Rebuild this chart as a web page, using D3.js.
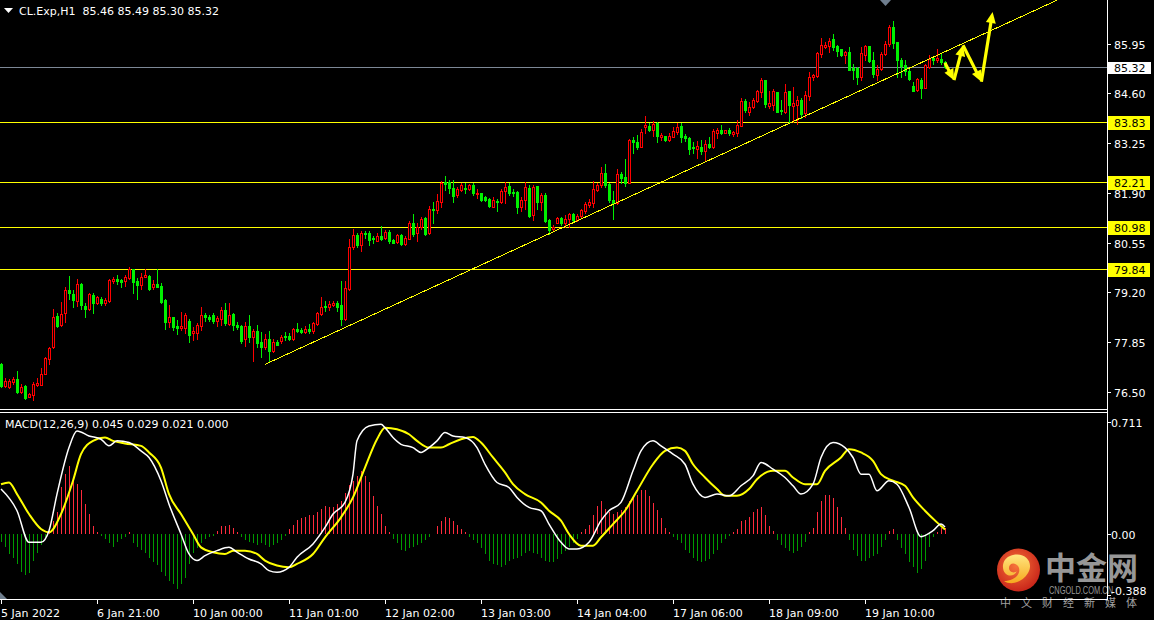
<!DOCTYPE html>
<html><head><meta charset="utf-8">
<script src="https://cdn.jsdelivr.net/npm/d3@7"></script>
<style>
html,body{margin:0;padding:0;background:#000;}
svg{display:block;}
text{font-family:"DejaVu Sans",sans-serif;font-size:11px;}
</style></head><body>
<svg id="c" width="1154" height="620"></svg>
<script>
// ---------------- DATA ----------------
const symbolInfo = "CL.Exp,H1  85.46 85.49 85.30 85.32";
const macdInfo = "MACD(12,26,9) 0.045 0.029 0.021 0.000";

const opens = [77.26,76.66,76.63,76.77,76.86,76.50,76.66,76.37,76.41,76.68,76.70,77.00,77.39,77.71,78.56,78.31,78.65,79.28,79.16,78.98,
79.43,78.83,78.76,79.12,78.92,79.03,78.91,78.96,79.50,79.56,79.54,79.52,79.59,79.83,79.50,79.39,79.63,79.66,79.34,79.43,
79.38,79.00,78.40,78.53,78.29,78.24,78.24,78.42,78.09,78.11,78.29,78.60,78.54,78.58,78.42,78.49,78.72,78.34,78.62,78.33,
78.29,77.93,78.29,78.00,78.15,77.86,77.71,77.93,77.62,77.86,77.89,78.02,78.02,77.95,78.20,78.18,78.13,78.22,78.15,78.34,
78.62,78.83,78.80,78.87,78.91,78.87,78.49,79.29,80.43,80.75,80.50,80.81,80.81,80.68,80.61,80.73,80.68,80.84,80.62,80.57,
80.75,80.52,80.66,81.08,80.82,80.97,81.22,80.81,81.46,81.44,81.65,82.20,82.20,82.04,81.84,81.98,82.04,82.00,82.11,81.87,
81.89,81.78,81.73,81.53,81.69,81.65,81.96,82.09,81.93,81.93,81.53,81.71,82.04,81.29,82.09,81.65,81.84,81.17,80.93,81.09,
81.22,81.09,81.19,81.33,81.17,81.27,81.40,81.58,81.64,81.98,82.11,82.43,82.14,81.71,81.62,82.41,82.33,82.18,83.34,83.28,
83.16,83.70,83.72,83.61,83.81,83.43,83.45,83.34,83.43,83.55,83.72,83.45,83.39,83.15,83.10,83.15,83.04,83.22,83.15,83.53,
83.62,83.54,83.60,83.51,83.54,83.73,84.39,84.11,84.23,84.39,84.65,84.96,84.27,84.30,84.63,84.14,84.11,84.67,84.27,84.30,
84.41,84.07,84.54,85.06,85.08,85.68,85.86,85.88,86.08,85.88,85.81,85.63,85.72,85.28,85.28,85.05,85.64,85.88,85.50,85.10,
85.26,85.68,85.93,86.40,85.99,85.50,85.37,85.21,84.79,84.70,84.96,84.76,85.32,85.55,85.52,85.53,85.46];
const highs = [77.30,76.87,76.86,76.92,77.07,76.72,76.69,76.48,76.77,76.87,77.14,77.46,77.73,78.74,78.63,78.94,79.34,79.65,79.27,79.56,
79.47,78.91,79.19,79.18,79.10,79.07,79.05,79.56,79.61,79.68,79.57,79.68,79.90,79.85,79.59,79.72,79.85,79.68,79.54,79.83,
79.47,79.01,78.85,78.54,78.45,78.68,78.65,78.47,78.27,78.38,78.81,78.65,78.60,78.63,78.56,78.81,78.92,78.92,78.65,78.40,
78.33,78.40,78.58,78.22,78.33,78.13,78.07,78.16,77.93,77.91,78.05,78.13,78.11,78.25,78.36,78.24,78.29,78.34,78.40,78.67,
79.07,78.96,78.96,78.96,78.98,79.50,79.50,80.64,80.91,80.81,80.88,80.88,80.88,80.72,80.81,81.00,80.90,80.90,80.66,80.79,
80.79,80.73,81.13,81.33,81.08,81.26,81.26,81.55,81.65,81.87,82.22,82.36,82.25,82.25,82.07,82.16,82.16,82.14,82.18,82.02,
81.91,81.82,81.76,81.78,81.73,82.02,82.20,82.16,82.02,81.94,81.78,82.20,82.11,82.11,82.09,81.89,81.89,81.20,81.02,81.24,
81.24,81.29,81.37,81.35,81.33,81.47,81.65,81.73,82.22,82.18,82.60,82.69,82.16,81.94,82.54,82.47,82.81,83.37,83.43,83.46,
83.63,83.99,83.79,83.84,83.83,83.54,83.45,83.52,83.68,83.79,83.79,83.50,83.43,83.27,83.30,83.33,83.35,83.42,83.63,83.65,
83.74,83.62,83.65,83.58,83.87,84.47,84.45,84.36,84.47,84.70,85.03,84.97,84.68,84.72,84.65,84.43,84.85,84.68,84.77,84.54,
84.48,84.68,85.17,85.14,85.72,86.10,85.99,86.10,86.20,85.91,85.81,85.75,85.86,85.39,85.32,85.86,85.91,85.90,85.73,85.37,
85.73,86.02,86.46,86.57,86.00,85.55,85.50,85.26,84.92,85.01,85.01,85.41,85.64,85.61,85.81,85.66,85.49];
const lows = [76.64,76.64,76.61,76.72,76.48,76.46,76.32,76.36,76.28,76.66,76.68,76.99,77.26,77.69,78.27,78.29,78.40,79.01,78.81,78.83,
78.74,78.54,78.72,78.63,78.89,78.87,78.87,78.94,79.47,79.43,79.36,79.38,79.57,79.18,79.03,79.30,79.61,79.27,79.30,79.34,
78.91,78.22,78.27,78.18,78.07,78.18,78.09,77.87,77.91,77.95,78.18,78.43,78.42,78.38,78.29,78.33,78.31,78.31,78.18,78.20,
77.82,77.75,77.87,77.35,77.71,77.46,77.67,77.31,77.59,77.77,77.82,77.91,77.91,77.91,78.13,78.11,78.11,78.11,78.11,78.33,
78.60,78.71,78.72,78.83,78.71,78.31,78.45,79.27,80.39,80.44,80.33,80.68,80.50,80.55,80.59,80.62,80.66,80.55,80.53,80.55,
80.50,80.50,80.64,80.72,80.61,80.93,80.75,80.79,81.09,81.37,81.53,81.98,81.91,81.65,81.78,81.94,81.91,81.98,81.84,81.76,
81.69,81.69,81.53,81.51,81.42,81.62,81.62,81.84,81.82,81.36,81.42,81.47,81.26,81.17,81.46,81.44,81.11,80.79,80.88,81.08,
81.02,80.99,80.97,81.11,81.13,81.24,81.37,81.53,81.53,81.94,82.07,82.07,81.65,81.20,81.60,82.16,82.09,82.16,82.99,83.08,
83.14,83.54,83.59,83.45,83.28,83.34,83.32,83.32,83.41,83.50,83.28,83.32,82.96,82.98,82.86,82.95,82.79,83.11,83.13,83.40,
83.51,83.53,83.47,83.45,83.45,83.71,84.11,84.02,84.20,84.36,84.50,84.23,84.20,84.16,84.09,84.03,84.07,83.80,83.83,83.78,
83.94,83.96,84.43,84.96,85.06,85.59,85.82,85.72,85.79,85.61,85.61,85.43,85.23,84.99,84.87,84.97,85.50,85.44,85.05,84.96,
85.25,85.64,85.88,85.82,85.05,85.05,85.10,84.96,84.67,84.68,84.47,84.74,85.30,85.41,85.46,85.41,85.30];
const closes = [76.66,76.81,76.79,76.86,76.50,76.64,76.34,76.45,76.72,76.75,77.00,77.42,77.69,78.53,78.29,78.62,79.28,79.19,79.00,79.43,
78.85,78.76,79.16,78.91,79.07,78.91,79.00,79.54,79.56,79.52,79.48,79.61,79.83,79.48,79.41,79.61,79.68,79.30,79.43,79.36,
78.94,78.40,78.53,78.27,78.24,78.29,78.60,78.05,78.16,78.31,78.58,78.53,78.49,78.42,78.51,78.72,78.36,78.60,78.33,78.27,
77.89,78.29,77.98,78.15,77.84,77.71,77.93,77.60,77.86,77.78,78.00,77.98,77.95,78.22,78.15,78.13,78.22,78.15,78.36,78.63,
78.81,78.80,78.89,78.92,78.81,78.49,79.32,80.43,80.75,80.48,80.81,80.79,80.62,80.66,80.72,80.66,80.84,80.61,80.55,80.75,
80.52,80.68,81.08,80.79,80.99,81.20,80.79,81.46,81.44,81.69,82.18,82.14,82.04,81.82,82.00,82.11,82.00,82.11,81.89,81.89,
81.71,81.71,81.55,81.71,81.65,81.96,82.07,81.91,81.89,81.53,81.71,82.05,81.27,82.05,81.65,81.84,81.15,80.90,80.97,81.22,
81.09,81.19,81.33,81.17,81.27,81.44,81.60,81.65,82.00,82.11,82.43,82.11,81.71,81.64,82.41,82.31,82.16,83.34,83.27,83.16,
83.55,83.75,83.61,83.77,83.45,83.48,83.34,83.45,83.57,83.68,83.43,83.39,83.10,83.12,83.17,83.04,83.22,83.15,83.58,83.62,
83.54,83.60,83.53,83.56,83.74,84.39,84.14,84.23,84.41,84.67,84.96,84.32,84.34,84.67,84.11,84.12,84.63,84.30,84.34,84.41,
84.05,84.56,85.06,85.10,85.70,85.91,85.91,86.02,85.86,85.75,85.63,85.72,85.25,85.25,85.05,85.70,85.88,85.48,85.14,85.26,
85.66,85.93,86.40,85.97,85.50,85.35,85.21,84.99,84.68,84.99,84.76,85.37,85.53,85.50,85.55,85.46,85.32];

const priceTicks = [85.95, 84.60, 83.25, 81.90, 80.55, 79.20, 77.85, 76.50];
const levelLines = [83.83, 82.21, 80.98, 79.84];
const lastPrice = 85.32;

const timeTickBars = [0, 24, 48, 72, 96, 120, 144, 168, 192, 216];
const timeTickLabels = ["5 Jan 2022","6 Jan 21:00","10 Jan 00:00","11 Jan 01:00","12 Jan 02:00",
  "13 Jan 03:00","14 Jan 04:00","17 Jan 06:00","18 Jan 09:00","19 Jan 10:00"];

// MACD main line [bar, value]
const macdMain = [[0,0.286],[4,0.148],[7,-0.053],[10,-0.053],[12,0.021],[14,0.254],[17,0.550],[19,0.656],[22,0.624],[25,0.603],
[27,0.561],[29,0.593],[32,0.582],[35,0.529],[37,0.487],[40,0.339],[42,0.190],[45,0.000],[47,-0.127],[49,-0.169],[51,-0.138],
[54,-0.106],[57,-0.085],[59,-0.116],[62,-0.159],[65,-0.190],[67,-0.233],[69,-0.243],[72,-0.212],[74,-0.148],[78,-0.063],
[81,0.042],[83,0.127],[86,0.201],[88,0.381],[89,0.593],[92,0.688],[95,0.698],[96,0.677],[98,0.614],[100,0.571],[103,0.550],
[105,0.519],[107,0.550],[109,0.593],[111,0.646],[113,0.624],[116,0.614],[119,0.550],[121,0.444],[124,0.328],[127,0.296],
[129,0.233],[132,0.169],[135,0.148],[137,0.063],[140,-0.053],[142,-0.095],[144,-0.095],[147,-0.053],[150,0.085],[152,0.148],
[155,0.201],[158,0.402],[160,0.529],[163,0.593],[165,0.561],[168,0.508],[171,0.444],[173,0.317],[176,0.233],[179,0.254],
[182,0.243],[185,0.307],[188,0.370],[190,0.455],[193,0.413],[196,0.360],[198,0.307],[200,0.254],[203,0.317],[205,0.487],
[208,0.582],[211,0.550],[213,0.487],[215,0.381],[217,0.381],[219,0.275],[222,0.339],[224,0.317],[227,0.169],[230,-0.017],
[233,0.021],[235,0.063],[236,0.045]];
// Signal line [bar, value]
const macdSignal = [[0,0.317],[2,0.328],[4,0.254],[7,0.127],[10,0.032],[12,0.011],[15,0.127],[18,0.339],[20,0.508],[23,0.593],
[26,0.614],[28,0.593],[31,0.576],[35,0.561],[37,0.519],[40,0.423],[42,0.254],[45,0.127],[48,0.000],[50,-0.085],[53,-0.116],
[56,-0.127],[58,-0.106],[61,-0.106],[64,-0.127],[66,-0.169],[69,-0.201],[72,-0.212],[74,-0.190],[78,-0.127],[81,-0.021],
[85,0.106],[88,0.233],[91,0.423],[94,0.603],[96,0.677],[99,0.667],[102,0.635],[104,0.593],[107,0.550],[110,0.550],[112,0.571],
[115,0.603],[118,0.618],[120,0.582],[123,0.487],[126,0.392],[128,0.317],[131,0.254],[135,0.201],[137,0.148],[140,0.085],
[142,0.000],[145,-0.074],[148,-0.074],[150,-0.021],[153,0.063],[156,0.148],[159,0.275],[163,0.444],[166,0.529],[169,0.550],
[171,0.529],[173,0.444],[176,0.360],[179,0.286],[181,0.243],[184,0.243],[187,0.286],[189,0.349],[193,0.402],[196,0.402],
[198,0.360],[201,0.317],[204,0.317],[206,0.402],[210,0.487],[212,0.540],[215,0.519],[218,0.466],[220,0.381],[223,0.339],
[226,0.307],[228,0.233],[231,0.148],[234,0.074],[236,0.029]];
// Histogram, one value per bar
const macdHist = [-0.05,-0.08,-0.13,-0.15,-0.19,-0.24,-0.26,-0.25,-0.17,-0.12,-0.07,-0.02,0.02,0.08,0.14,0.30,0.38,0.43,0.34,0.32,
0.28,0.19,0.13,0.05,0.01,-0.01,-0.03,-0.06,-0.08,-0.05,-0.03,-0.02,0.01,-0.06,-0.08,-0.10,-0.12,-0.15,-0.18,-0.20,
-0.24,-0.27,-0.30,-0.32,-0.35,-0.32,-0.28,-0.19,-0.12,-0.09,-0.06,-0.03,-0.02,-0.01,0.02,0.05,0.05,0.06,0.04,0.01,
-0.02,-0.04,-0.05,-0.06,-0.07,-0.06,-0.07,-0.08,-0.07,-0.06,-0.04,-0.01,0.03,0.06,0.09,0.10,0.11,0.12,0.12,0.14,
0.16,0.18,0.17,0.17,0.19,0.21,0.26,0.31,0.34,0.37,0.40,0.37,0.33,0.24,0.18,0.13,0.05,0.01,-0.03,-0.06,
-0.10,-0.11,-0.09,-0.08,-0.07,-0.06,-0.04,-0.02,0.00,0.05,0.08,0.11,0.10,0.08,0.06,0.03,0.01,-0.02,-0.04,-0.06,
-0.09,-0.13,-0.17,-0.19,-0.20,-0.21,-0.20,-0.17,-0.16,-0.15,-0.14,-0.12,-0.11,-0.12,-0.13,-0.15,-0.17,-0.18,-0.18,-0.16,
-0.13,-0.11,-0.08,-0.06,-0.03,0.01,0.03,0.06,0.12,0.18,0.21,0.16,0.14,0.13,0.14,0.15,0.17,0.21,0.24,0.25,
0.28,0.28,0.24,0.20,0.15,0.10,0.04,0.01,-0.02,-0.04,-0.06,-0.10,-0.12,-0.15,-0.17,-0.18,-0.17,-0.16,-0.13,-0.10,
-0.06,-0.03,-0.01,0.01,0.03,0.08,0.09,0.11,0.14,0.16,0.17,0.12,0.05,0.02,-0.04,-0.07,-0.09,-0.11,-0.12,-0.11,
-0.08,-0.05,0.01,0.04,0.14,0.21,0.25,0.25,0.23,0.17,0.11,0.04,-0.04,-0.10,-0.14,-0.17,-0.17,-0.15,-0.14,-0.13,
-0.08,-0.04,0.02,0.03,-0.04,-0.09,-0.13,-0.18,-0.21,-0.25,-0.22,-0.17,-0.08,-0.02,0.01,0.04,0.04];
const macdTicks = [0.711, 0.00, -0.388];
const macdTickLabels = ["0.711", "0.00", "-0.388"];

// trend line and forecast arrows, [bar, price]
const trendLine = [[66, 77.25], [264, 87.13]];
const forecastPath = [[236, 85.43], [238.25, 84.96], [240.5, 85.91], [245.1, 84.92], [247.9, 86.81]];

// watermark text
const wmName = "中金网";
const wmDomain = "CNGOLD.COM.CN";
const wmSlogan = "中 文 财 经 新 媒 体";

// ---------------- DRAW ----------------
const W = 1154, H = 620;
const AXIS_X = 1107;          // right axis line position
const RED = "#ff0000", GREEN = "#00f000", YEL = "#ffff00";

const svg = d3.select("#c");
svg.append("rect").attr("width", W).attr("height", H).attr("fill", "#000");

const xS = d3.scaleLinear().domain([0, 236]).range([1, 945]);
const yP = d3.scaleLinear().domain([76.5, 85.95]).range([392, 43.7]);
const yM = d3.scaleLinear().domain([0, 0.711]).range([534, 422.3]);

// --- watermark (behind chart)
const defs = svg.append("defs");
const rg = defs.append("radialGradient").attr("id", "wmc").attr("cx", "45%").attr("cy", "40%").attr("r", "60%");
rg.append("stop").attr("offset", "0%").attr("stop-color", "#f7743a");
rg.append("stop").attr("offset", "100%").attr("stop-color", "#c9261a");
const yg = defs.append("linearGradient").attr("id", "wmy").attr("x1", "0").attr("y1", "0").attr("x2", "0").attr("y2", "1");
yg.append("stop").attr("offset", "0%").attr("stop-color", "#ffe680");
yg.append("stop").attr("offset", "100%").attr("stop-color", "#f6a91e");
const wm = svg.append("g");
wm.append("circle").attr("cx", 1018.5).attr("cy", 570).attr("r", 21.5).attr("fill", "url(#wmc)");
wm.append("path").attr("fill", "url(#wmy)")
  .attr("d", "M1013 555 C1026 552,1034 563,1028 573 C1023 582,1011 586,1004 581 C1013 581,1021 575,1019 568 C1017 562,1009 562,1009 568 C1009 572,1014 574,1017 571 C1013 579,1002 576,1003 565 C1004 559,1008 556,1013 555 Z");
wm.append("text").attr("x", 1045).attr("y", 579).text(wmName)
  .style("font-family", "'Noto Sans CJK SC'").style("font-size", "31px").style("font-weight", "bold").attr("fill", "#979797");
wm.append("text").attr("x", 1049).attr("y", 593.5).text(wmDomain)
  .attr("textLength", 64).attr("lengthAdjust", "spacingAndGlyphs")
  .style("font-family", "'Liberation Sans'").style("font-size", "10.5px").attr("fill", "#979797");
wm.append("text").attr("x", 1000).attr("y", 607).text(wmSlogan)
  .attr("textLength", 137).attr("lengthAdjust", "spacing")
  .style("font-family", "'Noto Sans CJK SC'").style("font-size", "11px").attr("fill", "#a0a0a0");

// --- main panel clip
defs.append("clipPath").attr("id", "mainClip").append("rect").attr("x", 0).attr("y", 0).attr("width", AXIS_X).attr("height", 409);

const crisp = svg.append("g").attr("shape-rendering", "crispEdges");

// level lines
levelLines.forEach(v => {
  const y = Math.round(yP(v)) + 0.5;
  crisp.append("line").attr("x1", 0).attr("x2", AXIS_X).attr("y1", y).attr("y2", y).attr("stroke", YEL).attr("stroke-width", 1);
});
// last price line
{
  const y = Math.round(yP(lastPrice)) + 0.5;
  crisp.append("line").attr("x1", 0).attr("x2", AXIS_X).attr("y1", y).attr("y2", y).attr("stroke", "#7d8896").attr("stroke-width", 1);
}

// candles
const candles = crisp.append("g");
opens.forEach((o, i) => {
  const h = highs[i], l = lows[i], c = closes[i];
  const cx = Math.round(xS(i));
  const up = c > o;
  const col = up ? RED : GREEN;
  const yh = Math.round(yP(h)), yl = Math.round(yP(l));
  const yt = Math.round(yP(Math.max(o, c))), yb = Math.round(yP(Math.min(o, c)));
  candles.append("rect").attr("x", cx).attr("y", yh).attr("width", 1).attr("height", Math.max(1, yl - yh + 1)).attr("fill", col);
  candles.append("rect").attr("x", cx - 1).attr("y", yt).attr("width", 3).attr("height", Math.max(1, yb - yt + 1)).attr("fill", col);
  if (up && yb - yt >= 2) {
    candles.append("rect").attr("x", cx).attr("y", yt + 1).attr("width", 1).attr("height", yb - yt - 1).attr("fill", "#000");
  }
});

// trend line
crisp.append("line").attr("clip-path", "url(#mainClip)")
  .attr("x1", xS(trendLine[0][0])).attr("y1", yP(trendLine[0][1]))
  .attr("x2", xS(trendLine[1][0])).attr("y2", yP(trendLine[1][1]))
  .attr("stroke", YEL).attr("stroke-width", 1);

// forecast arrows
const arrows = svg.append("g");
for (let k = 0; k < forecastPath.length - 1; k++) {
  const x1 = xS(forecastPath[k][0]), y1 = yP(forecastPath[k][1]);
  const x2 = xS(forecastPath[k + 1][0]), y2 = yP(forecastPath[k + 1][1]);
  const dx = x2 - x1, dy = y2 - y1, len = Math.hypot(dx, dy);
  const ux = dx / len, uy = dy / len, hl = 11, hw = 5;
  const bx = x2 - ux * hl, by = y2 - uy * hl;
  arrows.append("line").attr("x1", x1).attr("y1", y1).attr("x2", bx + ux * 2).attr("y2", by + uy * 2)
    .attr("stroke", YEL).attr("stroke-width", 3.2);
  arrows.append("path").attr("fill", YEL)
    .attr("d", `M${x2},${y2} L${bx - uy * hw},${by + ux * hw} L${bx + uy * hw},${by - ux * hw} Z`);
}

// MACD histogram
const hist = crisp.append("g");
macdHist.forEach((v, i) => {
  const x = Math.round(xS(i)) + 0.5;
  const y0 = yM(0), y1 = yM(v);
  hist.append("line").attr("x1", x).attr("x2", x).attr("y1", y0).attr("y2", y1)
    .attr("stroke", v >= 0 ? "#ff2a3c" : "#009a00").attr("stroke-width", 1);
});
// MACD lines
const ln = d3.line().x(d => xS(d[0])).y(d => yM(d[1])).curve(d3.curveMonotoneX);
svg.append("path").attr("d", ln(macdSignal)).attr("fill", "none").attr("stroke", YEL).attr("stroke-width", 2);
svg.append("path").attr("d", ln(macdMain)).attr("fill", "none").attr("stroke", "#ffffff").attr("stroke-width", 1.5);

// --- frame lines
const fr = svg.append("g").attr("shape-rendering", "crispEdges").attr("stroke", "#ffffff").attr("stroke-width", 1);
fr.append("line").attr("x1", AXIS_X + 0.5).attr("x2", AXIS_X + 0.5).attr("y1", 0).attr("y2", 600);
fr.append("line").attr("x1", 0).attr("x2", AXIS_X + 1).attr("y1", 409.5).attr("y2", 409.5);
fr.append("line").attr("x1", 0).attr("x2", AXIS_X + 1).attr("y1", 412.5).attr("y2", 412.5);
fr.append("line").attr("x1", 0).attr("x2", AXIS_X + 1).attr("y1", 599.5).attr("y2", 599.5);

// grey markers
svg.append("path").attr("d", "M880,0 L891,0 L885.5,6 Z").attr("fill", "#6f7e8e");
svg.append("path").attr("d", "M0,592 L0,599 L7,599 Z").attr("fill", "#6f7e8e");

// --- price axis
const ax = svg.append("g");
priceTicks.forEach(v => {
  const y = Math.round(yP(v)) + 0.5;
  ax.append("line").attr("x1", AXIS_X + 1).attr("x2", AXIS_X + 4).attr("y1", y).attr("y2", y)
    .attr("stroke", "#fff").attr("shape-rendering", "crispEdges");
  ax.append("text").attr("x", 1114).attr("y", y + 4).attr("fill", "#fff").text(v.toFixed(2));
});
levelLines.forEach(v => {
  const y = Math.round(yP(v));
  ax.append("rect").attr("x", AXIS_X + 1).attr("y", y - 6).attr("width", 42).attr("height", 14).attr("fill", YEL);
  ax.append("text").attr("x", 1114).attr("y", y + 5).attr("fill", "#000").text(v.toFixed(2));
});
{
  const y = Math.round(yP(lastPrice));
  ax.append("rect").attr("x", AXIS_X + 1).attr("y", y - 5).attr("width", 43).attr("height", 12).attr("fill", "#fff");
  ax.append("text").attr("x", 1114).attr("y", y + 5).attr("fill", "#000").text(lastPrice.toFixed(2));
}
// MACD axis
macdTicks.forEach((v, k) => {
  const y = Math.round(yM(v)) + 0.5;
  if (y < 598) ax.append("line").attr("x1", AXIS_X + 1).attr("x2", AXIS_X + 4).attr("y1", y).attr("y2", y)
    .attr("stroke", "#fff").attr("shape-rendering", "crispEdges");
  ax.append("text").attr("x", 1111).attr("y", Math.min(y + 4, 595)).attr("fill", "#fff").text(macdTickLabels[k]);
});

// --- time axis
timeTickBars.forEach((b, k) => {
  const x = Math.round(xS(b)) + 0.5;
  ax.append("line").attr("x1", x).attr("x2", x).attr("y1", 600).attr("y2", 604)
    .attr("stroke", "#fff").attr("shape-rendering", "crispEdges");
  ax.append("text").attr("x", x - 0.5).attr("y", 617).attr("fill", "#fff").text(timeTickLabels[k]);
});

// --- headers
svg.append("path").attr("d", "M4,8 L13,8 L8.5,13 Z").attr("fill", "#fff");
svg.append("text").attr("x", 19).attr("y", 15).attr("fill", "#fff").attr("xml:space", "preserve")
  .style("white-space", "pre").text(symbolInfo);
svg.append("text").attr("x", 5).attr("y", 428).attr("fill", "#fff").text(macdInfo);
</script>
</body></html>
